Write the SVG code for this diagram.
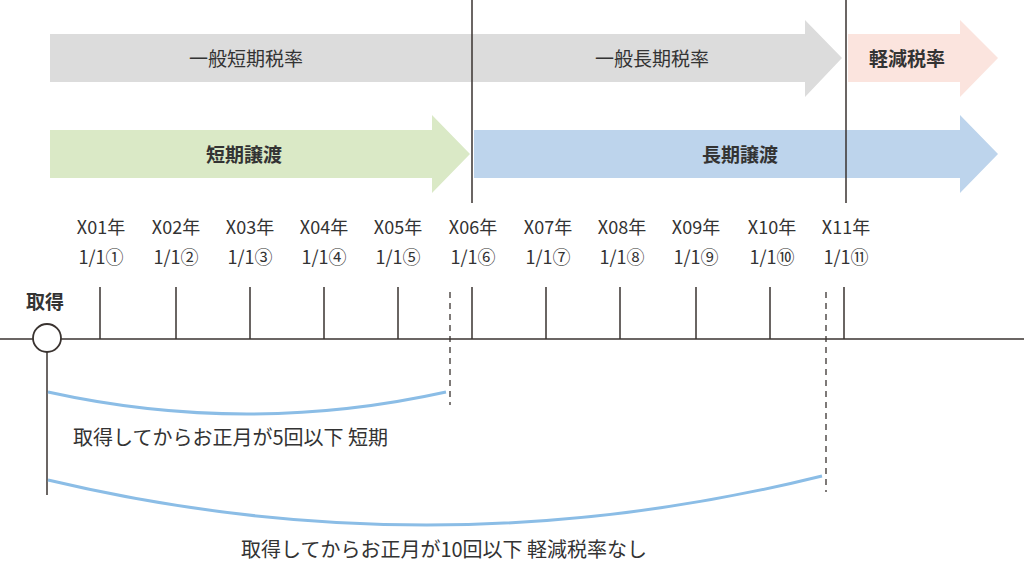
<svg xmlns="http://www.w3.org/2000/svg" width="1024" height="565" viewBox="0 0 1024 565">
<style>
text{font-family:"Noto Sans CJK JP","Noto Sans",sans-serif;fill:#333;}
.t{font-size:18px;text-anchor:middle;}
.h{font-size:19px;text-anchor:middle;}
.b{font-size:19px;font-weight:bold;text-anchor:middle;}
.ln{stroke:#3a3330;stroke-width:1.5;fill:none;}
.ds{stroke:#3a3330;stroke-width:1.3;stroke-dasharray:6,5;fill:none;}
.cv{stroke:#8bbde6;stroke-width:3;fill:none;}
.s{font-size:20px;}
</style>
<rect width="1024" height="565" fill="#fff"/>
<g id="short-rate"><path d="M50 34H805V20L842 58L805 97V82H50Z" fill="#dcdcdc"/><text class="h" x="246" y="66">一般短期税率</text></g>
<g id="long-rate"><text class="h" x="652" y="66">一般長期税率</text></g>
<g id="reduced-rate"><path d="M848 34H960V20L998 58L960 97V82H848Z" fill="#fbe4de"/><text class="b" x="907" y="66">軽減税率</text></g>
<g id="short-transfer"><path d="M50 130H432V115L470 154L432 193V178H50Z" fill="#dae9c6"/><text class="b" x="244" y="162">短期譲渡</text></g>
<g id="long-transfer"><path d="M474 130H960V115L998 154L960 193V178H474Z" fill="#bdd4ec"/><text class="b" x="740" y="162">長期譲渡</text></g>
<g id="connectors">
<line class="ln" x1="472" y1="0" x2="472" y2="203"/>
<line class="ln" x1="846" y1="0" x2="846" y2="203"/>
<line class="ln" x1="0" y1="339" x2="1024" y2="339"/>
<path class="ln" d="M100 287V339M176 287V339M250 287V339M324 287V339M398 287V339M472 287V339M546 287V339M620 287V339M696 287V339M770 287V339M844 287V339"/>
<line class="ds" x1="450" y1="292" x2="450" y2="405"/>
<line class="ds" x1="826" y1="292" x2="826" y2="492"/>
<line class="ln" x1="47" y1="352" x2="47" y2="495"/>
<path class="cv" d="M48 392Q247 436 446 392"/>
<path class="cv" d="M48 480Q435 572 822 476"/>
</g>
<g id="acq"><circle cx="47" cy="338" r="14" fill="#fff" stroke="#3a3330" stroke-width="1.8"/><text class="b" x="45" y="309">取得</text></g>
<g id="labels">
<text class="t" x="101" y="234">X01年</text><text class="t" x="101" y="264">1/1①</text>
<text class="t" x="176" y="234">X02年</text><text class="t" x="176" y="264">1/1②</text>
<text class="t" x="250" y="234">X03年</text><text class="t" x="250" y="264">1/1③</text>
<text class="t" x="324" y="234">X04年</text><text class="t" x="324" y="264">1/1④</text>
<text class="t" x="398" y="234">X05年</text><text class="t" x="398" y="264">1/1⑤</text>
<text class="t" x="473" y="234">X06年</text><text class="t" x="473" y="264">1/1⑥</text>
<text class="t" x="548" y="234">X07年</text><text class="t" x="548" y="264">1/1⑦</text>
<text class="t" x="622" y="234">X08年</text><text class="t" x="622" y="264">1/1⑧</text>
<text class="t" x="696" y="234">X09年</text><text class="t" x="696" y="264">1/1⑨</text>
<text class="t" x="772" y="234">X10年</text><text class="t" x="772" y="264">1/1⑩</text>
<text class="t" x="846" y="234">X11年</text><text class="t" x="846" y="264">1/1⑪</text>
<text class="s" x="73" y="445">取得してからお正月が5回以下 短期</text>
<text class="s" x="241" y="557">取得してからお正月が10回以下 軽減税率なし</text>
</g>
</svg>
